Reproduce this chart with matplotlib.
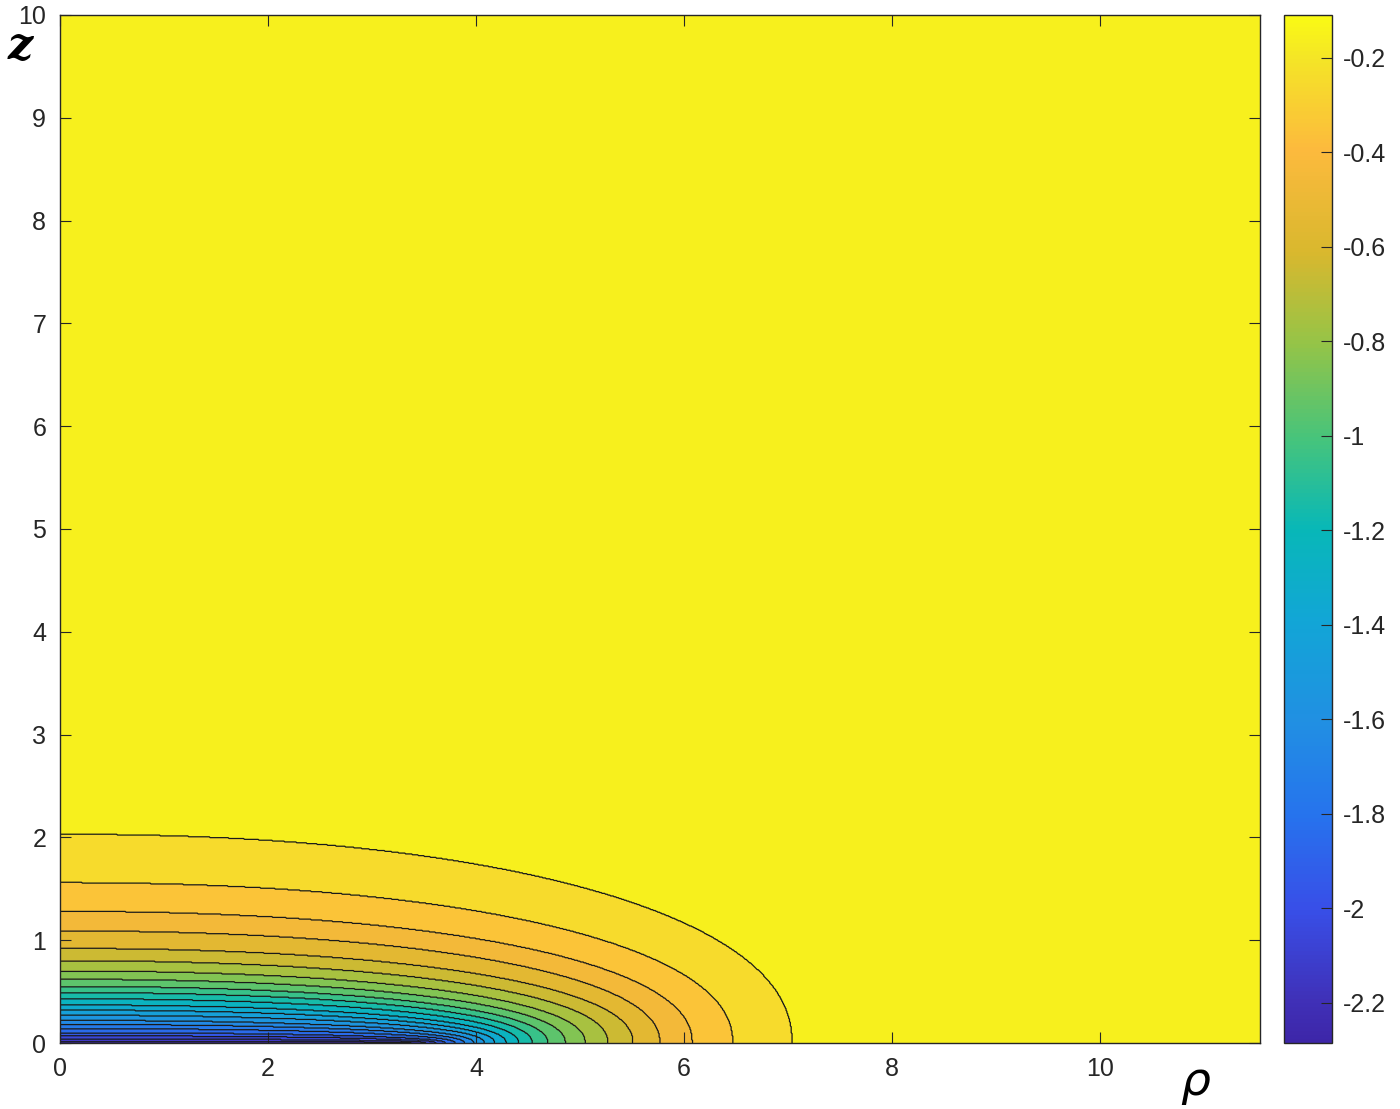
import numpy as np
import matplotlib
matplotlib.use('Agg')
import matplotlib.pyplot as plt
from matplotlib.colors import LinearSegmentedColormap, Normalize
from matplotlib.cm import ScalarMappable

plt.rcParams['axes.unicode_minus'] = False
plt.rcParams['font.family'] = ['Liberation Sans', 'DejaVu Sans']

# contour levels and where each contour meets the z axis and the rho axis
levels = [-0.2, -0.3, -0.4, -0.5, -0.6, -0.7, -0.8, -0.9, -1.0, -1.1, -1.2,
          -1.3, -1.4, -1.5, -1.6, -1.7, -1.8, -1.9, -2.0, -2.1, -2.2]
z_cross = [2.03, 1.56, 1.28, 1.09, 0.92, 0.80, 0.70, 0.62, 0.55, 0.49, 0.43,
           0.37, 0.32, 0.27, 0.22, 0.18, 0.14, 0.10, 0.07, 0.04, 0.015]
rho_cross = [7.04, 6.47, 6.08, 5.77, 5.51, 5.27, 5.05, 4.86, 4.69, 4.54, 4.41,
             4.29, 4.18, 4.08, 3.98, 3.89, 3.80, 3.71, 3.62, 3.52, 3.38]
vmin, vmax = -2.285, -0.109
cbar_ticks = [-2.2, -2.0, -1.8, -1.6, -1.4, -1.2, -1.0, -0.8, -0.6, -0.4, -0.2]

# parula-like colormap, matched to the reference colorbar
cm_pos = [0.0, 0.04, 0.13, 0.22, 0.31, 0.41, 0.50, 0.59, 0.68, 0.77, 0.87, 0.96, 1.0]
cm_col = [(0.24, 0.15, 0.66), (0.25, 0.19, 0.72), (0.22, 0.31, 0.91),
          (0.15, 0.45, 0.93), (0.13, 0.56, 0.89), (0.07, 0.65, 0.84),
          (0.03, 0.72, 0.72), (0.28, 0.77, 0.48), (0.58, 0.77, 0.28),
          (0.85, 0.72, 0.18), (0.99, 0.73, 0.24), (0.96, 0.90, 0.15),
          (0.98, 0.98, 0.08)]
cmap = LinearSegmentedColormap.from_list('parula', list(zip(cm_pos, cm_col)))
norm = Normalize(vmin=vmin, vmax=vmax)

# field: each band takes the mid value between its bounding levels
rho = np.linspace(0, 11.54, 1400)
z = np.linspace(0, 10, 1200)
R, Z = np.meshgrid(rho, z)
p = 2.2
bounds = [vmin] + levels[::-1] + [vmax]
mids = 0.5 * (np.array(bounds[:-1]) + np.array(bounds[1:]))  # low -> high
inside = np.zeros(R.shape, dtype=int)
for a, b in zip(rho_cross, z_cross):
    inside += ((R / a) ** p + (Z / b) ** p < 1).astype(int)
V = mids[::-1][inside]

fig = plt.figure(figsize=(14, 11.09), dpi=100)
ax = fig.add_axes([0.0429, 0.0595, 0.857, 0.927])
ax.contourf(R, Z, V, levels=bounds, cmap=cmap, norm=norm)
ax.contour(R, Z, V, levels=levels[::-1], colors='#1a1a1a', linewidths=0.9,
           linestyles='solid')

ax.set_xlim(0, 11.54)
ax.set_ylim(0, 10)
ax.set_xticks([0, 2, 4, 6, 8, 10])
ax.set_yticks(range(0, 11))
ax.tick_params(direction='in', top=True, right=True, length=8, width=0.8,
               labelsize=18, colors='#262626', pad=10)
for s in ax.spines.values():
    s.set_color('#262626')
    s.set_linewidth(1.0)

fig.text(0.005, 0.947, r'$\boldsymbol{z}$', fontsize=32,
         math_fontfamily='dejavuserif', ha='left', va='baseline')
fig.text(0.854, 0.022, r'$\rho$', fontsize=34, ha='center', va='center')

cax = fig.add_axes([0.917, 0.0595, 0.0343, 0.927])
cb = fig.colorbar(ScalarMappable(norm=norm, cmap=cmap), cax=cax)
cb.set_ticks(cbar_ticks)
cb.set_ticklabels(['%g' % t for t in cbar_ticks])
cax.tick_params(direction='in', length=8, width=0.8, labelsize=18,
                colors='#262626', pad=8)
cb.outline.set_edgecolor('#262626')
cb.outline.set_linewidth(1.0)

fig.savefig('out.png', dpi=100)
